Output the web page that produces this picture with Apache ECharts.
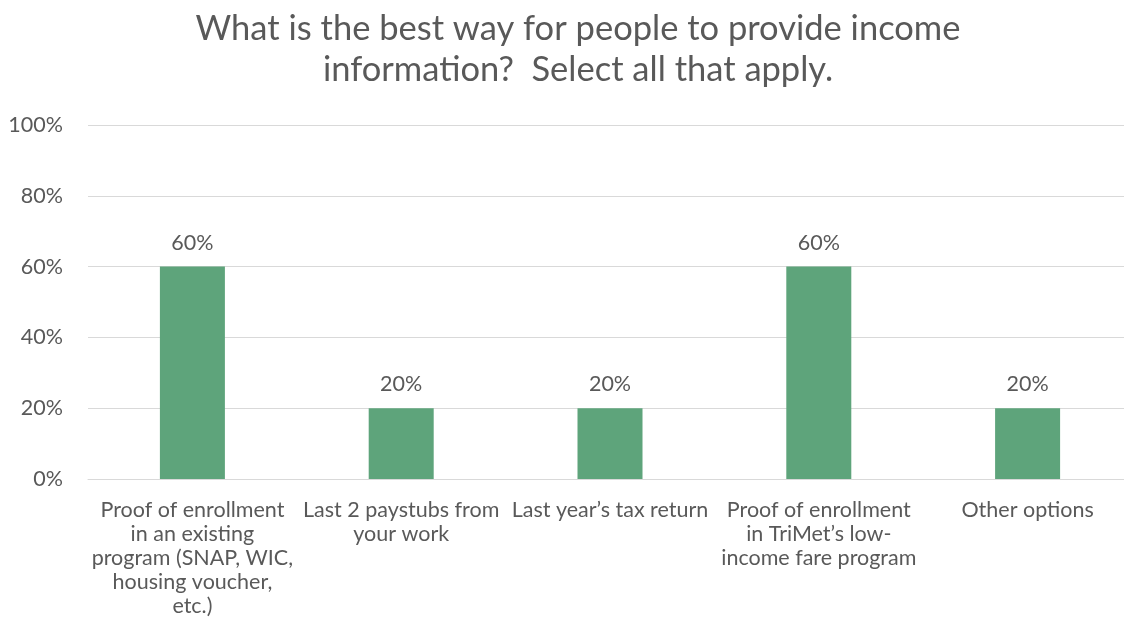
<!DOCTYPE html>
<html>
<head>
<meta charset="utf-8">
<style>
  html, body { margin: 0; padding: 0; background: #ffffff; overflow: hidden; }
  /* chart area is a little wider than the window; its right edge is clipped */
  #chart { width: 1156px; height: 639px; }
</style>
<script src="https://cdn.jsdelivr.net/npm/echarts@6/dist/echarts.min.js"></script>
</head>
<body>
<div id="chart"></div>
<script>
// Answer options (wrapped as they appear under each bar)
const categories = [
  'Proof of enrollment\nin an existing\nprogram (SNAP, WIC,\nhousing voucher,\netc.)',
  'Last 2 paystubs from\nyour work',
  'Last year\u2019s tax return',
  'Proof of enrollment\nin TriMet\u2019s low-\nincome fare program',
  'Other options'
];
// Share of respondents choosing each option (%)
const shares = [60, 20, 20, 60, 20];
const yTicks = [0, 20, 40, 60, 80, 100];

const textColor = '#595959';
const font = 'Lato, "Open Sans", "Liberation Sans", sans-serif';

const chart = echarts.init(document.getElementById('chart'));
chart.setOption({
  backgroundColor: '#ffffff',
  animation: false,
  title: {
    text: 'What is the best way for people to provide income\ninformation?  Select all that apply.',
    left: 'center',
    top: 3,
    textStyle: {
      color: textColor,
      fontFamily: font,
      fontWeight: 'normal',
      fontSize: 34.5,
      lineHeight: 41,
      align: 'center'
    }
  },
  grid: { left: 88, right: 24, top: 125, bottom: 160 },
  xAxis: {
    type: 'category',
    data: categories,
    axisLine: { show: true, lineStyle: { color: '#d9d9d9', width: 1 } },
    axisTick: { show: false },
    axisLabel: {
      interval: 0,
      color: textColor,
      fontFamily: font,
      fontSize: 21.5,
      lineHeight: 24,
      margin: 19,
      align: 'center'
    }
  },
  yAxis: {
    type: 'value',
    min: yTicks[0],
    max: yTicks[yTicks.length - 1],
    interval: 20,
    axisLine: { show: false },
    axisTick: { show: false },
    splitLine: { lineStyle: { color: '#d9d9d9', width: 1 } },
    axisLabel: {
      color: textColor,
      fontFamily: font,
      fontSize: 21.5,
      margin: 25,
      formatter: v => v + '%'
    }
  },
  series: [{
    type: 'bar',
    data: shares,
    barWidth: 65,
    itemStyle: { color: '#5ea47b' },
    label: {
      show: true,
      position: 'top',
      distance: 13,
      color: textColor,
      fontFamily: font,
      fontSize: 21.5,
      formatter: p => p.value + '%'
    }
  }]
});
</script>
</body>
</html>
